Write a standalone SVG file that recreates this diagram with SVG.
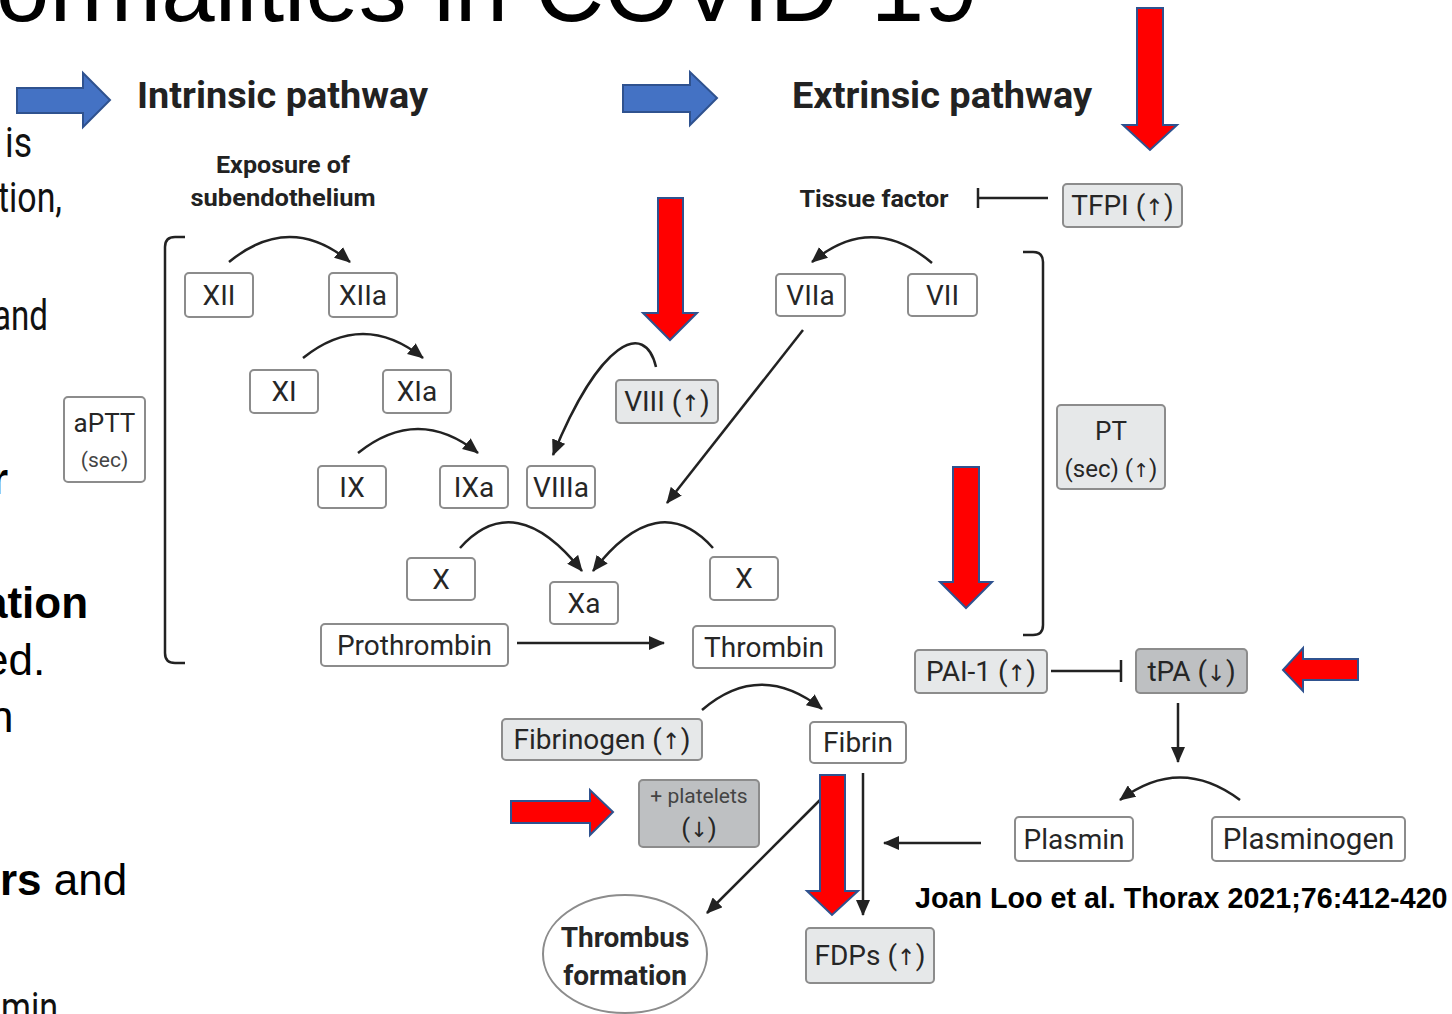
<svg xmlns="http://www.w3.org/2000/svg" width="1452" height="1014" viewBox="0 0 1452 1014">
  <style>
    .slide { font-family: "Liberation Sans", Arial, sans-serif; fill: #000; }
    .thin { font-family: Roboto, "Liberation Sans", sans-serif; font-weight: 400; font-size: 42px; fill: #111; }
    .head { font-family: Roboto, "Liberation Sans", sans-serif; font-weight: 700; font-size: 36px; fill: #222; }
    .sub { font-family: Roboto, "Liberation Sans", sans-serif; font-weight: 700; font-size: 24.5px; fill: #222; text-anchor: middle; }
    .box { fill: #fff; stroke: #8c8c8c; stroke-width: 2; }
    .light { fill: #e6e8e9; stroke: #8c8c8c; stroke-width: 2; }
    .dark { fill: #bec0c2; stroke: #8c8c8c; stroke-width: 2; }
    .lbl { font-family: Roboto, "Liberation Sans", "DejaVu Sans", sans-serif; font-size: 28px; fill: #262626; text-anchor: middle; }
    .ar { font-family: "DejaVu Sans", sans-serif; font-size: 0.8em; }
    .small { font-size: 21px; fill: #444; }
    .conn { fill: none; stroke: #222; stroke-width: 2.5; }
    .red { fill: #ff0000; stroke: #2f528f; stroke-width: 2; stroke-linejoin: miter; }
    .blue { fill: #4472c4; stroke: #2f528f; stroke-width: 2; }
  </style>
  <defs>
    <marker id="ah" viewBox="0 0 16 14" refX="15" refY="7" markerWidth="16" markerHeight="14" markerUnits="userSpaceOnUse" orient="auto">
      <path d="M0,0 L16,7 L0,14 z" fill="#222"/>
    </marker>
  </defs>

  <rect width="1452" height="1014" fill="#fff"/>

  <!-- slide title and body text running off the edges -->
  <g id="slide-text">
    <text class="slide" x="-4" y="21" font-size="96">ormalities in COVID-19</text>
    <text class="thin" x="5" y="157" textLength="27" lengthAdjust="spacingAndGlyphs">is</text>
    <text class="thin" x="-2" y="212" textLength="64" lengthAdjust="spacingAndGlyphs">tion,</text>
    <text class="thin" x="-7" y="330" textLength="55" lengthAdjust="spacingAndGlyphs">and</text>
    <text class="slide" x="-9" y="494" font-size="44" font-weight="700">r</text>
    <text class="slide" x="-17" y="618" font-size="44" font-weight="700">ation</text>
    <text class="slide" x="-16" y="675" font-size="44">ed.</text>
    <text class="slide" x="-11" y="732" font-size="44">n</text>
    <text class="slide" x="0" y="895" font-size="44"><tspan font-weight="700">rs</tspan> and</text>
    <text class="thin" x="1" y="1022" textLength="57" lengthAdjust="spacingAndGlyphs">min</text>
  </g>

  <!-- pathway headings -->
  <g id="headings">
    <text class="head" x="137" y="108" textLength="291" lengthAdjust="spacingAndGlyphs">Intrinsic pathway</text>
    <text class="head" x="792" y="108" textLength="300" lengthAdjust="spacingAndGlyphs">Extrinsic pathway</text>
    <text class="sub" x="283" y="173" textLength="134" lengthAdjust="spacingAndGlyphs">Exposure of</text>
    <text class="sub" x="283" y="206" textLength="185" lengthAdjust="spacingAndGlyphs">subendothelium</text>
    <text class="sub" x="874" y="207" textLength="149" lengthAdjust="spacingAndGlyphs">Tissue factor</text>
  </g>

  <!-- connectors -->
  <g id="connectors">
    <path class="conn" d="M185,237 L175,237 Q165,237 165,247 L165,653 Q165,663 175,663 L185,663"/>
    <path class="conn" d="M1023,252 L1033,252 Q1043,252 1043,262 L1043,625 Q1043,635 1033,635 L1023,635"/>
    <path class="conn" marker-end="url(#ah)" d="M229,262 Q290,212 350,262"/>
    <path class="conn" marker-end="url(#ah)" d="M303,358 Q363,310 423,358"/>
    <path class="conn" marker-end="url(#ah)" d="M358,453 Q418,405 478,453"/>
    <path class="conn" marker-end="url(#ah)" d="M932,263 Q872,212 812,262"/>
    <path class="conn" marker-end="url(#ah)" d="M656,367 C645,320 600,340 553,455"/>
    <path class="conn" marker-end="url(#ah)" d="M803,330 L667,503"/>
    <path class="conn" marker-end="url(#ah)" d="M460,548 Q515,487 582,571"/>
    <path class="conn" marker-end="url(#ah)" d="M713,548 Q658,487 593,571"/>
    <path class="conn" marker-end="url(#ah)" d="M517,643 L664,643"/>
    <path class="conn" marker-end="url(#ah)" d="M702,710 Q760,660 822,709"/>
    <path class="conn" marker-end="url(#ah)" d="M820,800 L707,913"/>
    <path class="conn" marker-end="url(#ah)" d="M863,773 L863,915"/>
    <path class="conn" marker-end="url(#ah)" d="M981,843 L884,843"/>
    <path class="conn" marker-end="url(#ah)" d="M1178,703 L1178,762"/>
    <path class="conn" marker-end="url(#ah)" d="M1240,800 Q1180,755 1120,800"/>
    <path class="conn" d="M1048,198 L978,198 M978,188 L978,208"/>
    <path class="conn" d="M1051,671 L1121,671 M1121,660 L1121,682"/>
  </g>

  <!-- intrinsic pathway factors -->
  <g id="aPTT"><rect class="box" x="64" y="397" width="81" height="85" rx="4"/><text class="lbl" x="104.5" y="432" style="font-size:26px">aPTT</text><text class="lbl small" x="104.5" y="467">(sec)</text></g>
  <g id="XII"><rect class="box" x="185" y="273" width="68" height="44" rx="4"/><text class="lbl" x="219" y="305">XII</text></g>
  <g id="XIIa"><rect class="box" x="329" y="273" width="68" height="44" rx="4"/><text class="lbl" x="363" y="305">XIIa</text></g>
  <g id="XI"><rect class="box" x="250" y="370" width="68" height="43" rx="4"/><text class="lbl" x="284" y="401">XI</text></g>
  <g id="XIa"><rect class="box" x="383" y="370" width="68" height="43" rx="4"/><text class="lbl" x="417" y="401">XIa</text></g>
  <g id="IX"><rect class="box" x="318" y="466" width="68" height="42" rx="4"/><text class="lbl" x="352" y="497">IX</text></g>
  <g id="IXa"><rect class="box" x="440" y="466" width="68" height="42" rx="4"/><text class="lbl" x="474" y="497">IXa</text></g>
  <g id="VIIIa"><rect class="box" x="527" y="466" width="68" height="42" rx="4"/><text class="lbl" x="561" y="497">VIIIa</text></g>
  <g id="VIII"><rect class="light" x="616" y="380" width="102" height="43" rx="4"/><text class="lbl" x="667" y="411">VIII (<tspan class="ar">↑</tspan>)</text></g>

  <!-- extrinsic pathway factors -->
  <g id="VIIa"><rect class="box" x="776" y="274" width="69" height="42" rx="4"/><text class="lbl" x="810.5" y="305">VIIa</text></g>
  <g id="VII"><rect class="box" x="908" y="274" width="69" height="42" rx="4"/><text class="lbl" x="942.5" y="305">VII</text></g>
  <g id="TFPI"><rect class="light" x="1063" y="184" width="119" height="43" rx="4"/><text class="lbl" x="1122.5" y="215">TFPI (<tspan class="ar">↑</tspan>)</text></g>
  <g id="PT"><rect class="light" x="1057" y="405" width="108" height="84" rx="4"/><text class="lbl" x="1111" y="440" style="font-size:26px">PT</text><text class="lbl" x="1111" y="477" style="font-size:24px">(sec) (<tspan class="ar">↑</tspan>)</text></g>

  <!-- common pathway -->
  <g id="X-left"><rect class="box" x="407" y="558" width="68" height="42" rx="4"/><text class="lbl" x="441" y="589">X</text></g>
  <g id="Xa"><rect class="box" x="550" y="582" width="68" height="42" rx="4"/><text class="lbl" x="584" y="613">Xa</text></g>
  <g id="X-right"><rect class="box" x="710" y="557" width="68" height="43" rx="4"/><text class="lbl" x="744" y="588">X</text></g>
  <g id="Prothrombin"><rect class="box" x="321" y="624" width="187" height="42" rx="4"/><text class="lbl" x="414.5" y="655">Prothrombin</text></g>
  <g id="Thrombin"><rect class="box" x="693" y="626" width="142" height="42" rx="4"/><text class="lbl" x="764" y="657">Thrombin</text></g>
  <g id="Fibrinogen"><rect class="light" x="502" y="719" width="200" height="41" rx="4"/><text class="lbl" x="602" y="749">Fibrinogen (<tspan class="ar">↑</tspan>)</text></g>
  <g id="Fibrin"><rect class="box" x="810" y="722" width="96" height="41" rx="4"/><text class="lbl" x="858" y="752">Fibrin</text></g>
  <g id="platelets"><rect class="dark" x="639" y="780" width="120" height="67" rx="4"/><text class="lbl" x="699" y="803" style="font-size:21px;fill:#444">+ platelets</text><text class="lbl" x="699" y="837" style="font-size:26px">(<tspan class="ar">↓</tspan>)</text></g>
  <g id="thrombus"><ellipse cx="625" cy="954" rx="82" ry="59" fill="#fff" stroke="#8c8c8c" stroke-width="2"/><text class="lbl" x="625" y="947" font-weight="700">Thrombus</text><text class="lbl" x="625" y="985" font-weight="700">formation</text></g>
  <g id="FDPs"><rect class="light" x="806" y="928" width="128" height="55" rx="4"/><text class="lbl" x="870" y="965">FDPs (<tspan class="ar">↑</tspan>)</text></g>

  <!-- fibrinolysis -->
  <g id="PAI-1"><rect class="light" x="915" y="650" width="132" height="43" rx="4"/><text class="lbl" x="981" y="681">PAI-1 (<tspan class="ar">↑</tspan>)</text></g>
  <g id="tPA"><rect class="dark" x="1136" y="649" width="111" height="44" rx="4"/><text class="lbl" x="1191.5" y="681">tPA (<tspan class="ar">↓</tspan>)</text></g>
  <g id="Plasmin"><rect class="box" x="1015" y="817" width="118" height="44" rx="4"/><text class="lbl" x="1074" y="849">Plasmin</text></g>
  <g id="Plasminogen"><rect class="box" x="1212" y="817" width="193" height="44" rx="4"/><text class="lbl" x="1308.5" y="849" style="font-size:29.5px">Plasminogen</text></g>

  <text id="citation" x="915" y="908" font-family="Liberation Sans, Arial, sans-serif" font-weight="700" font-size="28.7" fill="#000">Joan Loo et al. Thorax 2021;76:412-420</text>

  <!-- block arrows drawn over the scheme -->
  <g id="block-arrows">
    <polygon class="blue" points="17,88 83,88 83,73 110,100 83,127 83,113 17,113"/>
    <polygon class="blue" points="623,85 690,85 690,72 717,98 690,125 690,112 623,112"/>
    <polygon class="red" points="1137,8 1163,8 1163,125 1177,125 1150,150 1123,125 1137,125"/>
    <polygon class="red" points="658,198 683,198 683,313 697,313 670,340 643,313 658,313"/>
    <polygon class="red" points="953,467 979,467 979,582 992,582 966,608 940,582 953,582"/>
    <polygon class="red" points="1283,670 1303,648 1303,659 1358,659 1358,680 1303,680 1303,691"/>
    <polygon class="red" points="511,801 590,801 590,790 613,812 590,835 590,823 511,823"/>
    <polygon class="red" points="820,775 845,775 845,891 858,891 832,915 807,891 820,891"/>
  </g>
</svg>
